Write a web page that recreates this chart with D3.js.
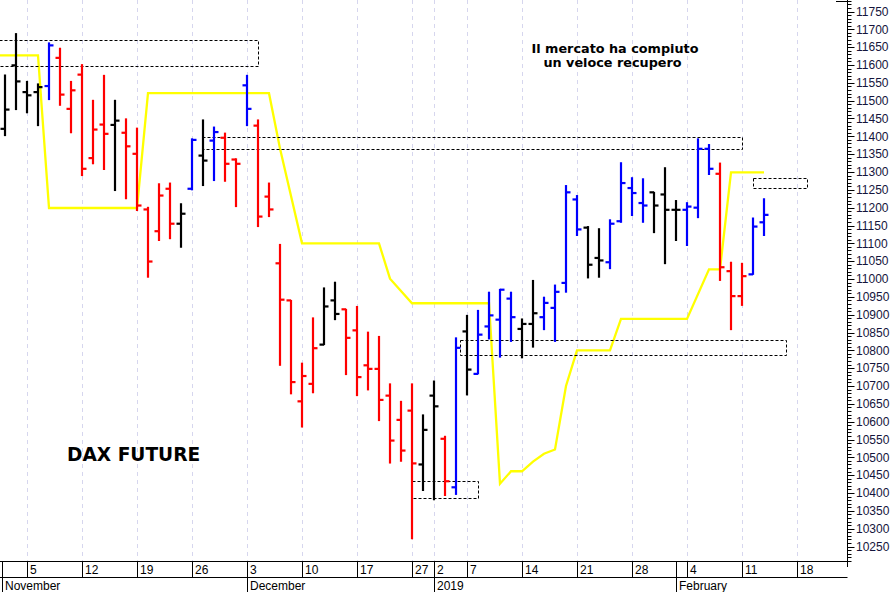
<!DOCTYPE html>
<html>
<head>
<meta charset="utf-8">
<script src="https://cdn.jsdelivr.net/npm/d3@7"></script>
<style>
  html, body { margin: 0; padding: 0; background: #fff; }
  svg { display: block; }
</style>
</head>
<body>
<div id="chart"></div>
<script>
// ---------------- DATA ----------------
const tradingDays = [
  "2018-11-01","2018-11-02","2018-11-05","2018-11-06","2018-11-07","2018-11-08","2018-11-09",
  "2018-11-12","2018-11-13","2018-11-14","2018-11-15","2018-11-16","2018-11-19","2018-11-20",
  "2018-11-21","2018-11-22","2018-11-23","2018-11-26","2018-11-27","2018-11-28","2018-11-29",
  "2018-11-30","2018-12-03","2018-12-04","2018-12-05","2018-12-06","2018-12-07","2018-12-10",
  "2018-12-11","2018-12-12","2018-12-13","2018-12-14","2018-12-17","2018-12-18","2018-12-19",
  "2018-12-20","2018-12-21","2018-12-27","2018-12-28","2019-01-02","2019-01-03","2019-01-04",
  "2019-01-07","2019-01-08","2019-01-09","2019-01-10","2019-01-11","2019-01-14","2019-01-15",
  "2019-01-16","2019-01-17","2019-01-18","2019-01-21","2019-01-22","2019-01-23","2019-01-24",
  "2019-01-25","2019-01-28","2019-01-29","2019-01-30","2019-01-31","2019-02-01","2019-02-04",
  "2019-02-05","2019-02-06","2019-02-07","2019-02-08","2019-02-11","2019-02-12","2019-02-13",
  "2019-02-14","2019-02-15","2019-02-18","2019-02-19","2019-02-20","2019-02-21","2019-02-22"
];

const opens  = [11421,11599,11524,11524,11541,11620,11477,11573,11339,11433,11432,11410,11351,11195,11134,11253,11155,11253,11346,11388,
                11396,11335,11543,11430,11231,11044,10940,10657,10706,10816,10940,10915,10856,10758,10748,10673,10605,10631,10480,10673,
                10552,10416,10853,10734,10867,10886,10945,10860,10874,10893,10919,10989,11223,11144,11059,11047,11162,11255,11213,11243,
                11237,11194,11194,11200,11365,11295,11022,10952,11013,11159];
const highs  = [11572,11688,11554,11547,11662,11647,11554,11601,11501,11571,11501,11449,11423,11201,11267,11269,11211,11393,11446,11426,
                11409,11337,11571,11446,11269,11097,10940,10764,10891,10975,10991,10915,10923,10851,10839,10706,10657,10706,10619,10714,
                10559,10835,10898,10912,10963,10971,10963,10888,10996,10949,10983,11262,11234,11147,11141,11166,11326,11284,11281,11243,
                11312,11220,11214,11393,11377,11325,11047,11044,11171,11225];
const lows   = [11402,11475,11466,11430,11503,11487,11410,11290,11323,11307,11248,11225,11192,11005,11108,11113,11089,11250,11262,11276,
                11274,11203,11430,11147,11175,10758,10678,10585,10681,10816,10886,10732,10673,10689,10603,10484,10489,10272,10407,10381,
                10393,10396,10675,10734,10832,10781,10825,10779,10809,10858,10825,10963,11122,11003,11005,11029,11159,11178,11159,11130,
                11043,11108,11094,11172,11293,10996,10858,10926,11013,11122];
const closes = [11475,11554,11515,11538,11655,11517,11529,11309,11419,11407,11444,11372,11206,11049,11234,11155,11183,11390,11332,11412,
                11323,11323,11477,11175,11195,10942,10711,10728,10806,10923,10902,10835,10725,10748,10661,10547,10519,10483,10577,10643,
                10433,10807,10746,10844,10898,10970,10893,10874,10904,10933,10964,11243,11139,11040,11052,11155,11269,11241,11206,11206,
                11194,11194,11203,11365,11309,11033,10952,11008,11147,11180];
// trend colour of each bar: k = black, r = red, b = blue
const barTrend = ["k","k","k","k","b","r","r","r","r","r","k","r","r","r","r","r","k","b","k","b",
                  "r","r","b","r","r","r","r","r","r","k","k","r","r","r","r","r","r","r","k","k",
                  "r","b","k","b","b","b","b","k","k","b","b","b","b","k","k","b","b","b","b","k",
                  "k","k","b","b","b","r","r","r","b","b"];

// yellow stop line (bar index, price)
const stopIndex = [-1, 3, 4, 12, 13, 24, 25, 27, 34, 35, 37, 44, 45, 46, 47, 48, 49, 50, 51, 52, 55, 56, 62, 64, 65, 66, 69];
const stopPrice = [11627,11627,11199,11199,11521,11521,11366,11100,11100,11001,10932,10932,10426,10461,10461,10488,10510,10522,10700,10800,10800,10888,10888,11027,11027,11299,11299];

// dashed zones
const zoneStart  = [-1, 17.9, 37, 41.4, 68];
const zoneEnd    = [23, 67, 43, 71, 72.9];
const zoneTop    = [11669, 11398, 10435, 10830, 11284];
const zoneBottom = [11596, 11365, 10387, 10788, 11256];

// axis labels
const weekTickDates  = ["2018-11-05","2018-11-12","2018-11-19","2018-11-26","2018-12-03","2018-12-10","2018-12-17","2018-12-27",
                        "2019-01-02","2019-01-07","2019-01-14","2019-01-21","2019-01-28","2019-02-04","2019-02-11","2019-02-18"];
const weekTickLabels = ["5","12","19","26","3","10","17","27","2","7","14","21","28","4","11","18"];
const monthDates  = ["2018-12-03","2019-01-02","2019-02-01"];
const monthLabels = ["December","2019","February"];
const priceTicks = d3.range(10250, 11751, 50);

const titleText = "DAX FUTURE";
const noteLines = ["Il mercato ha compiuto", "un veloce recupero"];

// ---------------- CHART ----------------
const W = 896, H = 592;
const plotRight = 847.5, plotBottom = 561.5;

const svg = d3.select("#chart").append("svg").attr("width", W).attr("height", H)
  .style("font-family", "'Liberation Sans', Arial, sans-serif");

const x = d3.scaleLinear().domain([0, 72]).range([5, 797]);
const y = d3.scaleLinear().domain([10250, 11750]).range([546.5, 11.5]);
const idx = d => tradingDays.indexOf(d);
const colorOf = { k: "#000000", r: "#ff0000", b: "#0000ff" };

svg.append("defs").append("clipPath").attr("id", "clip")
  .append("rect").attr("x", 0).attr("y", 0).attr("width", plotRight).attr("height", plotBottom);

const plot = svg.append("g").attr("clip-path", "url(#clip)");

// vertical dashed gridlines
plot.selectAll("line.grid").data(weekTickDates).enter().append("line")
  .attr("class", "grid")
  .attr("x1", d => Math.round(x(idx(d))) + 0.5).attr("x2", d => Math.round(x(idx(d))) + 0.5)
  .attr("y1", 0).attr("y2", plotBottom)
  .attr("stroke", "#d6d6ee").attr("stroke-width", 1).attr("stroke-dasharray", "4,4");

// yellow line
const stopData = stopIndex.map((d, i) => [d, stopPrice[i]]);
plot.append("path").datum(stopData)
  .attr("d", d3.line().x(d => x(d[0])).y(d => y(d[1])))
  .attr("fill", "none").attr("stroke", "#ffff00").attr("stroke-width", 2.3);

// dashed zones
plot.selectAll("rect.zone").data(zoneStart.map((d, i) => i)).enter().append("rect")
  .attr("class", "zone")
  .attr("x", i => Math.round(x(zoneStart[i])) + 0.5)
  .attr("y", i => Math.round(y(zoneTop[i])) + 0.5)
  .attr("width", i => Math.round(x(zoneEnd[i]) - x(zoneStart[i])))
  .attr("height", i => Math.round(y(zoneBottom[i]) - y(zoneTop[i])))
  .attr("fill", "none").attr("stroke", "#000").attr("stroke-width", 1).attr("stroke-dasharray", "3,2");

// OHLC bars
const bars = plot.selectAll("g.bar").data(opens.map((d, i) => i)).enter().append("g")
  .attr("class", "bar")
  .attr("stroke", i => colorOf[barTrend[i]]).attr("stroke-width", 2.2);
bars.append("line")
  .attr("x1", i => x(i)).attr("x2", i => x(i))
  .attr("y1", i => y(highs[i]) - 0.5).attr("y2", i => y(lows[i]) + 0.5);
bars.append("line")
  .attr("x1", i => x(i) - 4.5).attr("x2", i => x(i))
  .attr("y1", i => y(opens[i])).attr("y2", i => y(opens[i]));
bars.append("line")
  .attr("x1", i => x(i)).attr("x2", i => x(i) + 4.5)
  .attr("y1", i => y(closes[i])).attr("y2", i => y(closes[i]));

// texts
svg.append("text").attr("x", 67).attr("y", 461)
  .attr("font-family", "'DejaVu Sans', Verdana, sans-serif").attr("font-weight", "bold")
  .attr("font-size", 18.6).attr("fill", "#000").text(titleText);
svg.selectAll("text.note").data(noteLines).enter().append("text")
  .attr("class", "note")
  .attr("x", (d, i) => i === 0 ? 615 : 612.5).attr("y", (d, i) => 53 + i * 13.5)
  .attr("text-anchor", "middle")
  .attr("font-family", "'DejaVu Sans', Verdana, sans-serif").attr("font-weight", "bold")
  .attr("font-size", 12.8).attr("fill", "#000").text(d => d);

// right axis
const yAxis = svg.append("g");
yAxis.append("line").attr("x1", plotRight).attr("x2", plotRight).attr("y1", 0).attr("y2", 567)
  .attr("stroke", "#000").attr("stroke-width", 1);
yAxis.append("line").attr("x1", 836).attr("x2", plotRight).attr("y1", 1.5).attr("y2", 1.5)
  .attr("stroke", "#000");
const minorTicks = d3.range(10210, 11790, 10).filter(v => y(v) >= 0 && y(v) <= plotBottom);
yAxis.selectAll("line.mt").data(minorTicks).enter().append("line")
  .attr("x1", plotRight).attr("x2", v => plotRight + (v % 50 === 0 ? 7 : 4))
  .attr("y1", v => Math.round(y(v)) + 0.5).attr("y2", v => Math.round(y(v)) + 0.5)
  .attr("stroke", "#000").attr("stroke-width", 1);
yAxis.selectAll("text").data(priceTicks).enter().append("text")
  .attr("x", 856).attr("y", v => y(v)).attr("dy", "0.36em")
  .attr("font-size", 12).attr("fill", "#14143c").text(v => v);

// bottom axis
const xAxis = svg.append("g");
xAxis.append("line").attr("x1", 0).attr("x2", plotRight).attr("y1", plotBottom).attr("y2", plotBottom).attr("stroke", "#000");
xAxis.append("line").attr("x1", 0).attr("x2", plotRight).attr("y1", 577.5).attr("y2", 577.5).attr("stroke", "#000");
xAxis.append("line").attr("x1", 2.5).attr("x2", 2.5).attr("y1", plotBottom).attr("y2", H).attr("stroke", "#000");
xAxis.selectAll("line.wk").data(weekTickDates).enter().append("line")
  .attr("x1", d => Math.round(x(idx(d))) + 0.5).attr("x2", d => Math.round(x(idx(d))) + 0.5)
  .attr("y1", plotBottom).attr("y2", 577.5).attr("stroke", "#000");
xAxis.selectAll("text.wk").data(weekTickDates).enter().append("text")
  .attr("x", d => Math.round(x(idx(d))) + 3).attr("y", 574)
  .attr("font-size", 12).attr("fill", "#000").text((d, i) => weekTickLabels[i]);
xAxis.selectAll("line.mo").data(monthDates).enter().append("line")
  .attr("x1", d => Math.round(x(idx(d))) + 0.5).attr("x2", d => Math.round(x(idx(d))) + 0.5)
  .attr("y1", plotBottom).attr("y2", H).attr("stroke", "#000");
xAxis.append("text").attr("x", 5).attr("y", 590).attr("font-size", 12).attr("fill", "#000").text("November");
xAxis.selectAll("text.mo").data(monthDates).enter().append("text")
  .attr("x", d => Math.round(x(idx(d))) + 3).attr("y", 590)
  .attr("font-size", 12).attr("fill", "#000").text((d, i) => monthLabels[i]);
</script>
</body>
</html>
